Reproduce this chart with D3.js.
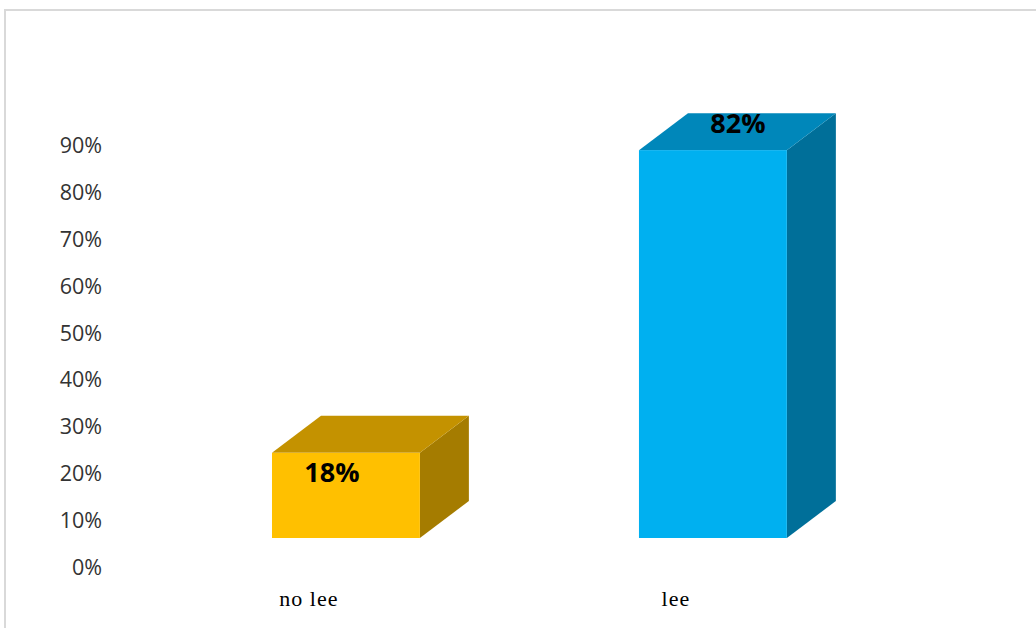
<!DOCTYPE html>
<html><head><meta charset="utf-8">
<script src="https://cdn.jsdelivr.net/npm/d3@7"></script>
<style>html,body{margin:0;padding:0;background:#fff;}svg{display:block;}</style>
</head><body>
<script>
const categories = ["no lee", "lee"];
const values = [0.18, 0.82];
const valueLabels = ["18%", "82%"];
const tickValues = [0, 0.1, 0.2, 0.3, 0.4, 0.5, 0.6, 0.7, 0.8, 0.9];

const W = 1036, H = 628;
const palette = [
  {front: "#FFC000", top: "#C49200", side: "#A57C00"},
  {front: "#00B0F0", top: "#0087BA", side: "#006F99"}
];
const depthX = 49, depthY = -37, floorShift = 29;

const svg = d3.select("body").append("svg").attr("width", W).attr("height", H);

// frame
svg.append("path").attr("d", `M5,${H} L5,10 L${W},10`).attr("fill","none")
  .attr("stroke","#d9d9d9").attr("stroke-width",2);

const y = d3.scaleLinear().domain([0, 0.9]).range([567, 145]);
const barY = d3.scaleLinear().domain([0, 0.9]).range([y(0) - floorShift, y(0) - floorShift - 0.9 * 473]);
const x = d3.scaleBand().domain(categories).range([180.25, 878.6])
  .paddingInner(0.597).paddingOuter(0.25);

// y axis
const yAxis = d3.axisLeft(y).tickValues(tickValues).tickSize(0).tickPadding(0)
  .tickFormat(d3.format(".0%"));
const gy = svg.append("g").attr("transform","translate(102,0)").call(yAxis);
gy.select(".domain").remove();
gy.selectAll("text").attr("font-family","'Open Sans', sans-serif").attr("font-size",21.5)
  .attr("fill","#333").attr("dy","0.35em");

// bars
const bars = svg.append("g").selectAll("g").data(values).join("g");
bars.each(function(v, i) {
  const g = d3.select(this);
  const x0 = x(categories[i]), x1 = x0 + x.bandwidth();
  const yb = barY(0), yt = barY(v);
  const c = palette[i];
  g.append("path").attr("d",
    `M${x1},${yb} L${x1},${yt} L${x1+depthX},${yt+depthY} L${x1+depthX},${yb+depthY} Z`)
    .attr("fill", c.side);
  g.append("path").attr("d",
    `M${x0},${yt} L${x1},${yt} L${x1+depthX},${yt+depthY} L${x0+depthX},${yt+depthY} Z`)
    .attr("fill", c.top);
  g.append("rect").attr("x", x0).attr("y", yt).attr("width", x1 - x0).attr("height", yb - yt)
    .attr("fill", c.front);
});

// value labels
const labelShift = [[-14, 29], [25, -17]];
svg.append("g").selectAll("text").data(values).join("text")
  .attr("x", (d,i) => x(categories[i]) + x.bandwidth()/2 + labelShift[i][0])
  .attr("y", (d,i) => barY(d) + labelShift[i][1])
  .attr("text-anchor","middle")
  .attr("font-family","'Open Sans', sans-serif").attr("font-weight","bold")
  .attr("font-size",27).attr("fill","#000")
  .text((d,i) => valueLabels[i]);

// category labels
svg.append("g").selectAll("text").data(categories).join("text")
  .attr("x", d => x(d) + x.bandwidth()/2 - 37)
  .attr("y", 606)
  .attr("text-anchor","middle")
  .attr("font-family","'Liberation Serif', serif").attr("font-size",22)
  .attr("letter-spacing", 1).attr("word-spacing", 0).attr("fill","#000")
  .text(d => d);
</script>
</body></html>
